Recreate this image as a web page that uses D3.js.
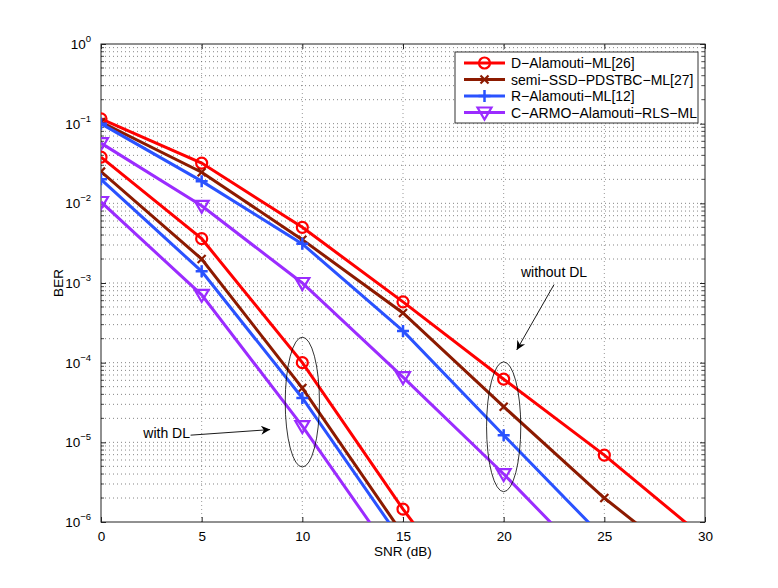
<!DOCTYPE html>
<html>
<head>
<meta charset="utf-8">
<script src="https://cdn.jsdelivr.net/npm/d3@7"></script>
<style>
  body { margin: 0; background: #fff; }
  svg { font-family: "Liberation Sans", Arial, sans-serif; }
</style>
</head>
<body>
<div id="chart"></div>
<script>
// DATA
const snr = [0, 5, 10, 15, 20, 25, 30];
const seriesNames = ["D−Alamouti−ML[26]", "semi−SSD−PDSTBC−ML[27]", "R−Alamouti−ML[12]", "C−ARMO−Alamouti−RLS−ML"];
const seriesColors = ["#ff0000", "#8c1a00", "#2a52ff", "#9b2cff"];
const seriesMarkers = ["circle", "x", "plus", "triangle"];

// without DL
const dAlamoutiNoDL = [0.115, 0.032, 0.0050, 5.8e-4, 6.2e-5, 6.9e-6, 6.2e-7];
const semiSsdNoDL = [0.105, 0.0246, 0.0035, 4.2e-4, 2.8e-5, 2.0e-6, 2.0e-7];
const rAlamoutiNoDL = [0.100, 0.019, 0.0031, 2.5e-4, 1.23e-5, 6.2e-7];
const cArmoNoDL = [0.057, 0.0093, 1.0e-3, 6.6e-5, 4.0e-6, 2.0e-7];
// with DL
const dAlamoutiDL = [0.038, 0.0036, 1.0e-4, 1.45e-6, 3.0e-8];
const semiSsdDL = [0.025, 0.0020, 4.8e-5, 7.0e-7];
const rAlamoutiDL = [0.020, 0.0014, 3.6e-5, 5.5e-7];
const cArmoDL = [0.0104, 7.1e-4, 1.6e-5, 2.5e-7];

const xTicks = [0, 5, 10, 15, 20, 25, 30];
const yTicks = [1e-6, 1e-5, 1e-4, 1e-3, 1e-2, 1e-1, 1];

const curves = [
  { s: 0, v: dAlamoutiNoDL }, { s: 1, v: semiSsdNoDL }, { s: 2, v: rAlamoutiNoDL }, { s: 3, v: cArmoNoDL },
  { s: 0, v: dAlamoutiDL }, { s: 1, v: semiSsdDL }, { s: 2, v: rAlamoutiDL }, { s: 3, v: cArmoDL }
];

const width = 778, height = 588;
const margin = { top: 44, right: 73, bottom: 66, left: 101 };

const svg = d3.select("#chart").append("svg")
  .attr("width", width).attr("height", height);

const xScale = d3.scaleLinear().domain([0, 30]).range([margin.left, width - margin.right]);
const yScale = d3.scaleLog().domain([1e-6, 1]).range([height - margin.bottom, margin.top]);

const x0 = xScale(0), x1 = xScale(30), y0 = yScale(1e-6), y1 = yScale(1);

// GRID
const minorY = [];
for (let e = -6; e < 0; e++) for (let m = 2; m <= 9; m++) minorY.push(m * Math.pow(10, e));

svg.append("g").selectAll("line").data(minorY).join("line")
  .attr("x1", x0).attr("x2", x1)
  .attr("y1", d => yScale(d)).attr("y2", d => yScale(d))
  .attr("stroke", "#333").attr("stroke-width", 0.6).attr("stroke-dasharray", "1,3");
svg.append("g").selectAll("line").data(yTicks.slice(1, -1)).join("line")
  .attr("x1", x0).attr("x2", x1)
  .attr("y1", d => yScale(d)).attr("y2", d => yScale(d))
  .attr("stroke", "#333").attr("stroke-width", 0.6).attr("stroke-dasharray", "1,3");
svg.append("g").selectAll("line").data(xTicks.slice(1, -1)).join("line")
  .attr("x1", d => xScale(d)).attr("x2", d => xScale(d))
  .attr("y1", y0).attr("y2", y1)
  .attr("stroke", "#555").attr("stroke-width", 0.6).attr("stroke-dasharray", "1,3");

// AXES
const fmtSup = { "0": "0", "-1": "−1", "-2": "−2", "-3": "−3", "-4": "−4", "-5": "−5", "-6": "−6" };
const yAxis = d3.axisLeft(yScale).tickValues(yTicks).tickSize(-5).tickPadding(7).tickFormat("");
const yAxisR = d3.axisRight(yScale).tickValues(yTicks).tickSize(-5).tickFormat("");
const xAxis = d3.axisBottom(xScale).tickValues(xTicks).tickSize(-5).tickPadding(9);
const xAxisT = d3.axisTop(xScale).tickValues(xTicks).tickSize(-5).tickFormat("");

function styleAxis(g) {
  g.select(".domain").remove();
  g.selectAll("line").attr("stroke", "#222");
  g.selectAll("text").attr("font-size", 13.5).attr("fill", "#000");
}
svg.append("g").attr("transform", `translate(${x0},0)`).call(yAxis).call(styleAxis);
svg.append("g").attr("transform", `translate(${x1},0)`).call(yAxisR).call(styleAxis);
svg.append("g").attr("transform", `translate(0,${y0})`).call(xAxis).call(styleAxis);
svg.append("g").attr("transform", `translate(0,${y1})`).call(xAxisT).call(styleAxis);

// minor y ticks
[x0, x1].forEach((xx, i) => {
  svg.append("g").selectAll("line").data(minorY).join("line")
    .attr("x1", xx).attr("x2", i === 0 ? xx + 3 : xx - 3)
    .attr("y1", d => yScale(d)).attr("y2", d => yScale(d))
    .attr("stroke", "#222").attr("stroke-width", 0.8);
});

// y tick labels 10^n
const yLab = svg.append("g").selectAll("text").data(yTicks).join("text")
  .attr("x", x0 - 10).attr("y", d => yScale(d) + 5)
  .attr("text-anchor", "end").attr("font-size", 13.5);
yLab.append("tspan").text("10");
yLab.append("tspan").attr("dy", -7).attr("font-size", 9.5)
  .text(d => fmtSup[String(Math.round(Math.log10(d)))]);

// box
svg.append("rect").attr("x", x0).attr("y", y1).attr("width", x1 - x0).attr("height", y0 - y1)
  .attr("fill", "none").attr("stroke", "#222").attr("stroke-width", 1);

// axis labels
svg.append("text").attr("x", (x0 + x1) / 2).attr("y", 556).attr("text-anchor", "middle")
  .attr("font-size", 13.5).text("SNR (dB)");
svg.append("text").attr("transform", `translate(63,${(y0 + y1) / 2}) rotate(-90)`)
  .attr("text-anchor", "middle").attr("font-size", 13.5).text("BER");

// CURVES
svg.append("clipPath").attr("id", "clip").append("rect")
  .attr("x", x0).attr("y", y1).attr("width", x1 - x0).attr("height", y0 - y1);
const plot = svg.append("g").attr("clip-path", "url(#clip)");

const line = d3.line().x((d, i) => xScale(snr[i])).y(d => yScale(d));

function drawMarker(g, type, color, px, py) {
  if (type === "circle") {
    g.append("circle").attr("cx", px).attr("cy", py).attr("r", 5.5)
      .attr("fill", "none").attr("stroke", color).attr("stroke-width", 2.2);
  } else if (type === "x") {
    g.append("path").attr("d", `M${px - 4},${py - 4}L${px + 4},${py + 4}M${px - 4},${py + 4}L${px + 4},${py - 4}`)
      .attr("stroke", color).attr("stroke-width", 2.2);
  } else if (type === "plus") {
    g.append("path").attr("d", `M${px - 6},${py}L${px + 6},${py}M${px},${py - 6}L${px},${py + 6}`)
      .attr("stroke", color).attr("stroke-width", 2.5);
  } else {
    g.append("path").attr("d", `M${px - 7},${py - 5}L${px + 7},${py - 5}L${px},${py + 7}Z`)
      .attr("fill", "none").attr("stroke", color).attr("stroke-width", 2.2);
  }
}

curves.forEach(c => {
  const color = seriesColors[c.s];
  plot.append("path").datum(c.v).attr("d", line)
    .attr("fill", "none").attr("stroke", color).attr("stroke-width", 3);
  c.v.forEach((v, i) => {
    const px = xScale(snr[i]), py = yScale(v);
    if (v >= 1e-6) drawMarker(plot, seriesMarkers[c.s], color, px, py);
  });
});

// ANNOTATIONS
const ellipses = [{ x: 10, lo: -5.31, hi: -3.68 }, { x: 20, lo: -5.62, hi: -3.99 }];
ellipses.forEach(e => {
  const cy = (yScale(Math.pow(10, e.lo)) + yScale(Math.pow(10, e.hi))) / 2;
  const ry = (yScale(Math.pow(10, e.lo)) - yScale(Math.pow(10, e.hi))) / 2;
  svg.append("ellipse").attr("cx", xScale(e.x)).attr("cy", cy)
    .attr("rx", xScale(0.85) - xScale(0)).attr("ry", ry)
    .attr("fill", "none").attr("stroke", "#000").attr("stroke-width", 0.8);
});

svg.append("defs").append("marker").attr("id", "arrow")
  .attr("viewBox", "0 0 10 10").attr("refX", 10).attr("refY", 5)
  .attr("markerWidth", 14).attr("markerHeight", 9).attr("markerUnits", "userSpaceOnUse")
  .attr("orient", "auto")
  .append("path").attr("d", "M0,0L10,5L0,10L3,5Z").attr("fill", "#000");

const arrows = [
  { x1: 4.45, y1: 10 ** -4.91, x2: 8.4, y2: 10 ** -4.84 },
  { x1: 22.5, y1: 10 ** -3.02, x2: 20.65, y2: 10 ** -3.84 }
];
arrows.forEach(a => {
  svg.append("line").attr("x1", xScale(a.x1)).attr("y1", yScale(a.y1))
    .attr("x2", xScale(a.x2)).attr("y2", yScale(a.y2))
    .attr("stroke", "#000").attr("stroke-width", 0.9).attr("marker-end", "url(#arrow)");
});

svg.append("text").attr("x", xScale(2.1)).attr("y", yScale(10 ** -4.9) + 4)
  .attr("font-size", 14).text("with DL");
svg.append("text").attr("x", xScale(22.5)).attr("y", yScale(10 ** -2.92))
  .attr("text-anchor", "middle").attr("font-size", 14).text("without DL");

// LEGEND
const lg = svg.append("g");
lg.append("rect").attr("x", 455).attr("y", 52).attr("width", 243).attr("height", 71)
  .attr("fill", "#fff").attr("stroke", "#333").attr("stroke-width", 1);
seriesNames.forEach((name, i) => {
  const yy = 63 + i * 16.5;
  const color = seriesColors[i];
  lg.append("line").attr("x1", 464).attr("x2", 505).attr("y1", yy).attr("y2", yy)
    .attr("stroke", color).attr("stroke-width", 3);
  drawMarker(lg, seriesMarkers[i], color, 484.5, yy);
  lg.append("text").attr("x", 511).attr("y", yy + 5).attr("font-size", 14).text(name);
});
</script>
</body>
</html>
